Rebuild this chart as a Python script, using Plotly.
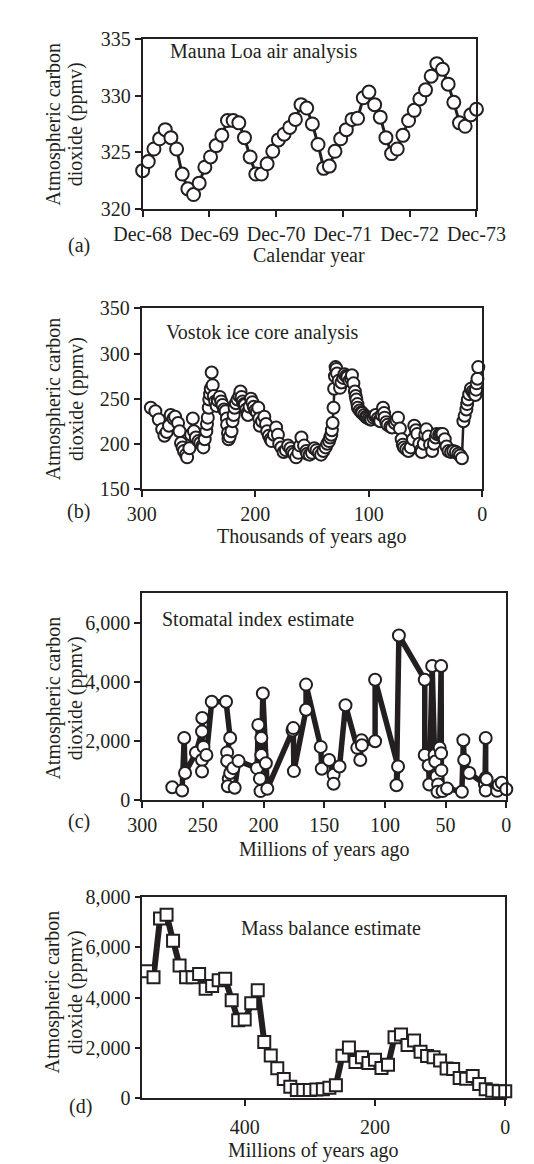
import plotly.graph_objects as go

W, H = 534, 1164
SERIF = "Liberation Serif, Times New Roman, serif"
INK = "#231f20"

# ---------------- data ----------------
# (a) Mauna Loa monthly CO2 (ppmv), Dec-68 .. Dec-73
ml_co2 = [323.4, 324.2, 325.3, 326.2, 327.0, 326.3, 325.3, 323.1, 321.8, 321.3,
          322.3, 323.7, 324.6, 325.6, 326.5, 327.8, 327.8, 327.6, 326.3, 324.6,
          323.1, 323.1, 324.0, 325.1, 326.1, 326.6, 327.2, 327.9, 329.2, 328.9,
          327.5, 325.7, 323.6, 323.8, 325.1, 326.2, 327.0, 327.9, 328.0, 329.8,
          330.3, 329.2, 328.1, 326.3, 324.9, 325.3, 326.5, 327.8, 328.7, 329.7,
          330.5, 331.7, 332.8, 332.3, 331.0, 329.4, 327.6, 327.3, 328.3, 328.8]
ml_tick_months = [0, 12, 24, 36, 48, 60]
ml_tick_text = ["Dec-68", "Dec-69", "Dec-70", "Dec-71", "Dec-72", "Dec-73"]

# (b) Vostok ice core (thousands of years ago, ppmv)
vostok_kyr = [292, 288, 285, 282, 280, 278, 276, 274.5, 272, 270.6, 268, 266.7, 265.4, 264,
              262.8, 261, 260, 258, 256.5, 255, 254, 252.3, 250, 248.4, 246.5, 245.7, 244.5,
              243.1, 242.5, 241.8, 241, 240.5, 239.8, 239.2, 238.4, 237.5, 236.5, 235.3, 234,
              233, 231.3, 230, 228.8, 227.5, 226.1, 225, 224.8, 224, 223.5, 222.5, 220.9, 220,
              219, 218.2, 217, 215.6, 214, 213, 212, 211, 210, 209.1, 208, 207, 206.4, 205,
              203.8, 202.5, 201.3, 200, 198.5, 197.3, 196.5, 196, 194, 192, 190.5, 189.5, 188,
              186.5, 185.5, 183.5, 181.6, 180, 178.9, 177, 175, 173, 171.1, 169, 167.5, 165.9,
              164, 162, 160.5, 159.3, 157, 155, 154.1, 152, 150, 148, 146, 144, 142, 140, 138,
              136.5, 135, 134, 133, 132.5, 131.8, 131, 130.5, 129.8, 129.2, 128.5, 127.9, 126.5,
              125.3, 124, 122.5, 121.4, 120, 118.8, 117, 115.5, 114.8, 113.5, 112.2, 111.5,
              110.9, 110, 109.6, 108, 106.5, 105.7, 104, 102.5, 101.7, 100, 98.5, 97.8, 96,
              94.7, 93.9, 92, 90.5, 89.9, 88.5, 87.4, 86.5, 86, 84.5, 83.4, 81, 79.5, 77, 75.5,
              74.2, 72.5, 71, 70, 69, 67, 65, 63, 61, 59.9, 58.5, 57.2, 55.5, 54, 53.3, 51.5,
              50.2, 49.3, 47.5, 46, 44.1, 42.5, 41, 40.2, 38, 36.5, 35, 33, 31.5, 29.7, 27.5,
              25.5, 23.2, 21, 19.5, 17.9, 16.6, 15.5, 14, 13.3, 12.7, 11.5, 10, 8.5, 7.2, 6.1,
              5.5, 4.9, 4.2, 3.5]
vostok_co2 = [240, 236, 227, 216, 209, 213, 220, 232, 228, 230, 223, 214, 201, 196,
              192, 188, 185, 195, 210, 228, 214, 207, 203, 201, 198, 196, 205,
              214, 222, 229, 240, 249, 255, 261, 279, 265, 253, 247, 242,
              248, 252, 247, 243, 238, 236, 228, 221, 212, 205, 208, 214, 225,
              232, 240, 245, 249, 253, 258, 252, 247, 244, 243, 238, 234, 232, 241,
              250, 246, 241, 237, 235, 240, 228, 220, 225, 230, 222, 214, 209,
              205, 203, 210, 218, 210, 200, 196, 191, 193, 198, 195, 191, 189,
              185, 190, 198, 207, 198, 192, 189, 188, 190, 195, 193, 190, 188, 192, 196,
              200, 203, 207, 210, 215, 223, 240, 261, 275, 285, 283, 278, 270,
              262, 268, 273, 277, 275, 274, 270, 272, 276, 267, 258, 253,
              249, 244, 240, 237, 235, 234, 232, 230, 229, 228, 227, 227, 229,
              231, 232, 228, 226, 225, 232, 240, 234, 229, 224, 221, 219, 218, 223, 226,
              229, 217, 205, 199, 196, 194, 192, 196, 205, 220, 215, 211, 200, 193, 191, 200,
              210, 216, 208, 199, 192, 200, 207, 211, 210, 211, 211, 205, 197, 192, 191,
              192, 191, 189, 187, 184, 225, 231, 238, 244, 249, 255, 261, 258, 256, 254,
              260, 267, 272, 285]

# (c) Stomatal index estimate (millions of years ago, ppmv)
stoma_myr = [275.2, 267.1, 265.4, 264.7, 255.7, 250.7, 250.5, 250.7, 250.7, 249.5, 247.1,
             242.7, 230.9, 227.5, 230, 230, 228.7, 229.4, 227.5, 225, 223.8, 220.6, 205.4,
             204.3, 201.8, 201.8, 203, 202.5, 200.6, 198.1, 196.9, 176.1, 175.5, 175, 165,
             165, 152.9, 152.1, 146, 142.3, 142.3, 137.4, 132.5, 122.8, 120.3, 119.3, 119,
             108.1, 108.1, 89.2, 90.5, 88.5, 67.2, 67.2, 64, 63.5, 61.1, 59.1, 58.5, 57.4,
             56.2, 56.7, 54.9, 53.7, 53.7, 53.5, 52.5, 48.8, 36.6, 35.4, 34.7, 30.5, 17.6,
             17, 17, 17, 16.3, 7.6, 6.3, 3.8, 0]
stoma_co2 = [432, 322, 2093, 910, 1595, 2316, 2770, 1352, 963, 1794, 1518,
             3322, 3322, 2093, 1608, 1319, 721, 465, 910, 1076, 412, 1319, 1076,
             2538, 2093, 1518, 721, 299, 3601, 1243, 379, 2349, 2430, 975, 3050,
             3900, 1794, 1053, 1352, 854, 545, 1130, 3202, 1761, 1352, 2017, 1850,
             1983, 4066, 1130, 498, 5561, 4066, 1518, 1163, 522, 4532, 1518, 1300, 797,
             522, 279, 1761, 4532, 1575, 1000, 299, 389, 279, 2017, 1352, 910, 522,
             2093, 744, 322, 700, 308, 506, 584, 363]

# (d) Mass balance estimate (millions of years ago, ppmv)
mass_myr = [550, 540, 530, 520, 510, 500, 490, 480, 470, 460, 450, 440, 430, 420, 410,
            400, 390, 380, 370, 360, 350, 340, 330, 320, 310, 300, 290, 280, 270, 260,
            250, 240, 230, 220, 210, 200, 190, 180, 170, 160, 150, 140, 130, 120, 110,
            100, 90, 80, 70, 60, 50, 40, 30, 20, 10, 0]
mass_co2 = [5050, 4810, 7150, 7300, 6260, 5280, 4810, 4810, 4940, 4350, 4460, 4690, 4750,
            3900, 3100, 3130, 3780, 4290, 2240, 1700, 1190, 760, 455, 325, 325, 325, 350,
            360, 420, 520, 1690, 2017, 1440, 1627, 1405, 1530, 1200, 1327, 2420, 2537,
            2120, 2300, 1847, 1680, 1627, 1496, 1185, 1160, 800, 770, 885, 570, 360, 300,
            280, 280]

# ---------------- layout helpers ----------------
def xdom(x0, x1):
    return [x0 / W, x1 / W]

def ydom(top, bottom):
    return [1 - bottom / H, 1 - top / H]

def ann(text, xp, yp, xanchor="center", angle=0, size=20):
    return dict(text=text, x=xp / W, y=1 - yp / H, xref="paper", yref="paper",
                xanchor=xanchor, yanchor="middle", showarrow=False, textangle=angle,
                font=dict(family=SERIF, size=size, color=INK))

axis_common = dict(showline=True, mirror=True, linecolor=INK, linewidth=1.8,
                   ticks="outside", ticklen=6, tickwidth=1.8, tickcolor=INK,
                   showgrid=False, zeroline=False,
                   tickfont=dict(family=SERIF, size=20, color=INK))

panels = {
    "a": dict(x=(118.5, 493), y=(20, 194)),
    "b": dict(x=(117.5, 499.5), y=(295, 479)),
    "c": dict(x=(118, 526.5), y=(585, 796)),
    "d": dict(x=(118.3, 525.3), y=(895, 1100)),
}

fig = go.Figure()

ml_x = [i * 60 / (len(ml_co2) - 1) for i in range(len(ml_co2))]

def circle_marker(size):
    return dict(symbol="circle", size=size, color="white", line=dict(color=INK, width=2))

fig.add_trace(go.Scatter(x=ml_x, y=ml_co2, mode="lines+markers",
                         line=dict(color=INK, width=3), marker=circle_marker(13),
                         xaxis="x", yaxis="y", cliponaxis=False))
fig.add_trace(go.Scatter(x=vostok_kyr, y=vostok_co2, mode="lines+markers",
                         line=dict(color=INK, width=2.5), marker=circle_marker(12),
                         xaxis="x2", yaxis="y2", cliponaxis=False))
fig.add_trace(go.Scatter(x=stoma_myr, y=stoma_co2, mode="lines+markers",
                         line=dict(color=INK, width=5.5), marker=circle_marker(12),
                         xaxis="x3", yaxis="y3", cliponaxis=False))
fig.add_trace(go.Scatter(x=mass_myr, y=mass_co2, mode="lines+markers",
                         line=dict(color=INK, width=6),
                         marker=dict(symbol="square", size=12, color="white",
                                     line=dict(color=INK, width=2)),
                         xaxis="x4", yaxis="y4", cliponaxis=False))

fig.update_layout(
    width=W, height=H, margin=dict(l=0, r=0, t=0, b=0),
    paper_bgcolor="white", plot_bgcolor="white", showlegend=False,
    xaxis=dict(domain=xdom(*panels["a"]["x"]), range=[0, 60], tickmode="array",
               tickvals=ml_tick_months, ticktext=ml_tick_text, anchor="y", **axis_common),
    yaxis=dict(domain=ydom(*panels["a"]["y"]), range=[320, 335], dtick=5, anchor="x",
               **axis_common),
    xaxis2=dict(domain=xdom(*panels["b"]["x"]), range=[300, 0], dtick=100, anchor="y2",
                **axis_common),
    yaxis2=dict(domain=ydom(*panels["b"]["y"]), range=[150, 350], dtick=50, anchor="x2",
                **axis_common),
    xaxis3=dict(domain=xdom(*panels["c"]["x"]), range=[300, 0], dtick=50, anchor="y3",
                **axis_common),
    yaxis3=dict(domain=ydom(*panels["c"]["y"]), range=[0, 7000], dtick=2000,
                tickformat=",", anchor="x3", **axis_common),
    xaxis4=dict(domain=xdom(*panels["d"]["x"]), range=[557, 0], tickmode="array",
                tickvals=[400, 200, 0], anchor="y4", ticklabelstandoff=4, **axis_common),
    yaxis4=dict(domain=ydom(*panels["d"]["y"]), range=[0, 8000], dtick=2000,
                tickformat=",", anchor="x4", **axis_common),
)

annotations = [
    # panel a
    ann("Atmospheric carbon", 18.7, 107, angle=-90),
    ann("dioxide (ppmv)", 44, 107, angle=-90),
    ann("Mauna Loa air analysis", 147, 33, xanchor="left"),
    ann("Calendar year", 305.7, 241),
    ann("(a)", 47, 231),
    # panel b
    ann("Atmospheric carbon", 18.7, 387, angle=-90),
    ann("dioxide (ppmv)", 44, 387, angle=-90),
    ann("Vostok ice core analysis", 142.4, 320, xanchor="left"),
    ann("Thousands of years ago", 308.5, 527),
    ann("(b)", 47, 502),
    # panel c
    ann("Atmospheric carbon", 18.7, 692, angle=-90),
    ann("dioxide (ppmv)", 44, 692, angle=-90),
    ann("Stomatal index estimate", 138, 611.7, xanchor="left"),
    ann("Millions of years ago", 322, 846),
    ann("(c)", 47, 818),
    # panel d
    ann("Atmospheric carbon", 17, 992, angle=-90),
    ann("dioxide (ppmv)", 42.6, 992, angle=-90),
    ann("Mass balance estimate", 226.5, 927, xanchor="left"),
    ann("Millions of years ago", 310, 1153),
    ann("(d)", 48.5, 1108),
]
fig.update_layout(annotations=annotations)

fig.write_html("out.html")
